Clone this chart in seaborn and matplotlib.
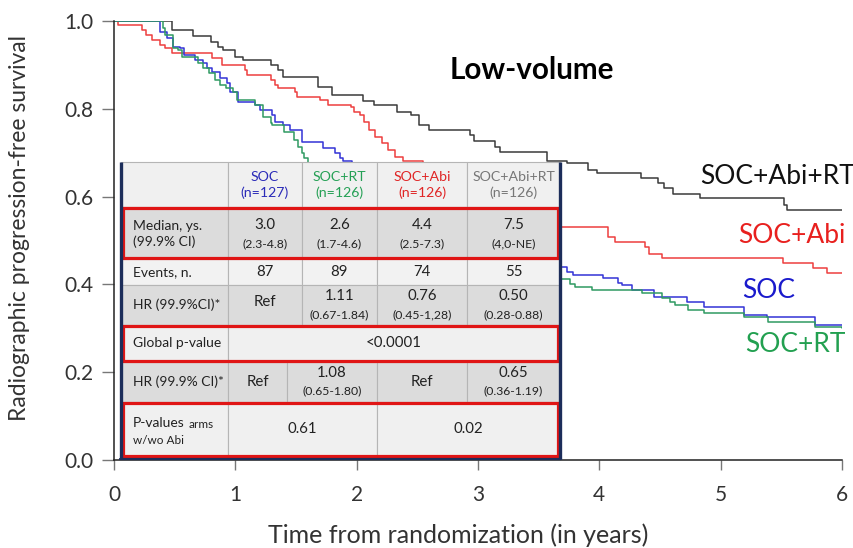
import numpy as np
import pandas as pd
import matplotlib
matplotlib.use("Agg")
import matplotlib.pyplot as plt
import seaborn as sns
from matplotlib.patches import Rectangle

# ---------------- data ----------------
arms = ["SOC+Abi+RT", "SOC+Abi", "SOC", "SOC+RT"]

t_abi_rt = [0, 0.48, 0.65, 0.80, 0.86, 0.90, 1.00, 1.06, 1.29, 1.35, 1.39, 1.68, 1.80,
            2.05, 2.14, 2.33, 2.45, 2.51, 2.60, 2.93, 2.97, 3.14, 3.18, 3.57, 3.73, 3.91,
            3.98, 4.34, 4.48, 4.53, 4.61, 4.83, 5.52, 5.55, 6.0]
s_abi_rt = [1.0, 0.98, 0.965, 0.953, 0.941, 0.934, 0.919, 0.911, 0.90, 0.888, 0.873, 0.85, 0.831,
            0.818, 0.808, 0.793, 0.786, 0.763, 0.752, 0.740, 0.727, 0.714, 0.702, 0.68, 0.676, 0.66,
            0.653, 0.642, 0.631, 0.62, 0.607, 0.596, 0.58, 0.569, 0.569]

t_abi = [0, 0.03, 0.23, 0.26, 0.31, 0.38, 0.42, 0.48, 0.81, 0.89, 1.08, 1.10, 1.29, 1.33,
         1.35, 1.49, 1.51, 1.70, 1.76, 1.95, 1.98, 2.03, 2.06, 2.10, 2.15, 2.21, 2.26, 2.32,
         2.38, 2.55, 2.75, 2.95, 3.15, 3.35, 3.55, 3.65, 4.07, 4.13, 4.38, 4.41, 4.52, 5.51,
         5.76, 5.88, 6.0]
s_abi = [1.0, 0.99, 0.98, 0.968, 0.957, 0.945, 0.938, 0.927, 0.916, 0.90, 0.888, 0.877, 0.866, 0.854,
         0.847, 0.838, 0.827, 0.82, 0.809, 0.804, 0.793, 0.786, 0.77, 0.752, 0.736, 0.722, 0.706, 0.69,
         0.681, 0.665, 0.645, 0.625, 0.60, 0.575, 0.55, 0.531, 0.508, 0.497, 0.485, 0.47, 0.46, 0.449,
         0.437, 0.426, 0.426]

t_soc = [0, 0.38, 0.44, 0.49, 0.54, 0.58, 0.67, 0.73, 0.77, 0.81, 0.87, 0.93, 0.96, 1.02,
         1.16, 1.20, 1.30, 1.33, 1.39, 1.45, 1.55, 1.72, 1.82, 1.86, 1.89, 1.96, 2.1, 2.3,
         2.5, 2.7, 2.9, 3.1, 3.3, 3.5, 3.65, 3.73, 3.78, 4.03, 4.15, 4.19, 4.27, 4.45, 4.72,
         4.86, 5.19, 5.38, 5.78, 6.0]
s_soc = [1.0, 0.975, 0.961, 0.941, 0.938, 0.922, 0.911, 0.904, 0.893, 0.884, 0.87, 0.859, 0.838,
         0.815, 0.809, 0.797, 0.786, 0.77, 0.763, 0.752, 0.724, 0.711, 0.699, 0.688, 0.681, 0.66,
         0.63, 0.60, 0.57, 0.54, 0.51, 0.49, 0.47, 0.455, 0.44, 0.428, 0.421, 0.414, 0.403, 0.399,
         0.387, 0.372, 0.36, 0.349, 0.33, 0.326, 0.307, 0.307]

t_rt = [0, 0.40, 0.42, 0.49, 0.53, 0.56, 0.69, 0.73, 0.78, 0.83, 0.87, 0.92, 0.98, 1.01,
        1.16, 1.23, 1.29, 1.30, 1.40, 1.48, 1.52, 1.55, 1.57, 1.60, 1.63, 1.8, 2.0, 2.2, 2.4,
        2.6, 2.8, 3.0, 3.2, 3.4, 3.6, 3.76, 3.80, 3.94, 4.35, 4.52, 4.58, 4.62, 4.73, 4.86,
        5.19, 5.39, 5.78, 6.0]
s_rt = [1.0, 0.984, 0.968, 0.938, 0.934, 0.918, 0.904, 0.893, 0.882, 0.866, 0.854, 0.847, 0.838,
        0.82, 0.809, 0.781, 0.768, 0.763, 0.747, 0.729, 0.713, 0.699, 0.688, 0.677, 0.65, 0.62,
        0.59, 0.56, 0.535, 0.51, 0.49, 0.47, 0.45, 0.43, 0.412, 0.40, 0.394, 0.387, 0.38, 0.369,
        0.36, 0.353, 0.342, 0.335, 0.326, 0.315, 0.303, 0.30]

curve_times = [t_abi_rt, t_abi, t_soc, t_rt]
curve_surv = [s_abi_rt, s_abi, s_soc, s_rt]

# table content
col_headers = ["SOC\n(n=127)", "SOC+RT\n(n=126)", "SOC+Abi\n(n=126)", "SOC+Abi+RT\n(n=126)"]
row_labels = ["Median, ys.\n(99.9% CI)", "Events, n.", "HR (99.9%CI)*", "Global p-value",
              "HR (99.9% CI)*", "P-values", "w/wo Abi"]
median_vals = ["3.0", "2.6", "4.4", "7.5"]
median_ci = ["(2.3-4.8)", "(1.7-4.6)", "(2.5-7.3)", "(4,0-NE)"]
events = ["87", "89", "74", "55"]
hr_vals = ["Ref", "1.11", "0.76", "0.50"]
hr_ci = ["", "(0.67-1.84)", "(0.45-1,28)", "(0.28-0.88)"]
global_p = "<0.0001"
hr2_vals = ["Ref", "1.08", "Ref", "0.65"]
hr2_ci = ["", "(0.65-1.80)", "", "(0.36-1.19)"]
pvals = ["0.61", "0.02"]

# ---------------- style ----------------
sns.set_style("ticks")
plt.rcParams["font.family"] = ["Lato", "DejaVu Sans"]

colors = {"SOC+Abi+RT": "#3a3a3a", "SOC+Abi": "#ee3e3e", "SOC": "#3333d6", "SOC+RT": "#2f9a62"}
label_colors = {"SOC+Abi+RT": "#111111", "SOC+Abi": "#e8201e", "SOC": "#1a1acc", "SOC+RT": "#22a050"}
header_colors = ["#2a2ab8", "#25a055", "#e02525", "#777777"]

W, H = 854, 548
fig = plt.figure(figsize=(W / 100, H / 100), dpi=100)
ax = fig.add_axes([114 / W, 1 - 460 / H, (842 - 114) / W, (460 - 21) / H])

df = pd.concat([pd.DataFrame({"t": t, "S": s, "arm": a})
                for a, t, s in zip(arms, curve_times, curve_surv)], ignore_index=True)
sns.lineplot(data=df, x="t", y="S", hue="arm", palette=colors, estimator=None, sort=False,
             drawstyle="steps-post", legend=False, linewidth=1.1, ax=ax)

ax.set_xlim(0, 6)
ax.set_ylim(0, 1.0)
ax.set_xticks(range(0, 7))
ax.set_yticks([0, 0.2, 0.4, 0.6, 0.8, 1.0])
ax.set_yticklabels(["0.0", "0.2", "0.4", "0.6", "0.8", "1.0"])
ax.tick_params(axis="both", labelsize=15, labelcolor="#333333", color="#777777",
               direction="out", length=9, width=1)
ax.tick_params(axis="y", pad=6)
ax.tick_params(axis="x", pad=11, length=7)
for sp in ["top", "right"]:
    ax.spines[sp].set_visible(False)
for sp in ["left", "bottom"]:
    ax.spines[sp].set_color("#222222")
    ax.spines[sp].set_linewidth(1.1)
ax.set_xlabel("")
ax.set_ylabel("")

fig.text(458 / W, 1 - 535 / H, "Time from randomization (in years)", ha="center", va="center",
         fontsize=18, color="#333333")
fig.text(20 / W, 1 - 228 / H, "Radiographic progression-free survival", ha="center", va="center",
         rotation=90, fontsize=16.5, color="#333333")

ax.text((532 - 114) / 121.3, (460 - 70) / 439, "Low-volume", ha="center", va="center",
        fontsize=21.3, fontweight="bold", color="black")

label_pos = {"SOC+Abi+RT": (700, 176), "SOC+Abi": (738, 236), "SOC": (742, 291), "SOC+RT": (745, 345)}
for a in arms:
    px, py = label_pos[a]
    ax.text((px - 114) / 121.3, (460 - py) / 439, a, ha="left", va="center", fontsize=19,
            color=label_colors[a], clip_on=False)

# ---------------- table overlay ----------------
tax = fig.add_axes([0, 0, 1, 1], zorder=5)
tax.set_xlim(0, W)
tax.set_ylim(H, 0)
tax.axis("off")
tax.patch.set_alpha(0)

rows_y = [162, 207, 259, 285, 325, 362, 402, 457]
cols_x = [121, 228, 302, 377, 467, 560]
hr2_cols = [121, 228, 287, 377, 467, 560]
row_fill = ["#f0f0f0", "#dcdcdc", "#f2f2f2", "#dcdcdc", "#f0f0f0", "#dcdcdc", "#f0f0f0"]
grid_c = "#b5b5b5"

def cell(x0, x1, y0, y1, fc):
    tax.add_patch(Rectangle((x0, y0), x1 - x0, y1 - y0, facecolor=fc, edgecolor=grid_c, lw=0.8))

for r in range(7):
    y0, y1 = rows_y[r], rows_y[r + 1]
    if r == 4:
        cell(cols_x[0], cols_x[1], y0, y1, row_fill[r])
        cell(cols_x[1], cols_x[5], y0, y1, row_fill[r])
    elif r == 5:
        for c in range(5):
            cell(hr2_cols[c], hr2_cols[c + 1], y0, y1, row_fill[r])
    elif r == 6:
        cell(cols_x[0], cols_x[1], y0, y1, row_fill[r])
        cell(cols_x[1], cols_x[3], y0, y1, row_fill[r])
        cell(cols_x[3], cols_x[5], y0, y1, row_fill[r])
    else:
        for c in range(5):
            cell(cols_x[c], cols_x[c + 1], y0, y1, row_fill[r])

# red boxes
for r in [1, 4, 6]:
    tax.add_patch(Rectangle((123, rows_y[r] + 1), 435, rows_y[r + 1] - rows_y[r] - 2,
                            facecolor="none", edgecolor="#e01515", lw=2.3))
# navy borders
navy = "#1c2d5a"
tax.plot([121, 121], [162, 459], color=navy, lw=2.4, solid_capstyle="butt")
tax.plot([560, 560], [162, 459], color=navy, lw=2.4, solid_capstyle="butt")
tax.plot([120, 561], [458.5, 458.5], color=navy, lw=1.6)

centers = [(cols_x[c] + cols_x[c + 1]) / 2 for c in range(1, 5)]
hr2_centers = [(hr2_cols[c] + hr2_cols[c + 1]) / 2 for c in range(1, 5)]
LX = 133
fs_lab, fs_val, fs_ci = 10, 10.8, 8.8
tc = "#222222"

for c, (hdr, hc) in enumerate(zip(col_headers, header_colors)):
    tax.text(centers[c], 185, hdr, ha="center", va="center", fontsize=10.2, color=hc, linespacing=1.3)

tax.text(LX, 234, row_labels[0], ha="left", va="center", fontsize=fs_lab, color=tc, linespacing=1.25)
for c in range(4):
    tax.text(centers[c], 225, median_vals[c], ha="center", va="center", fontsize=fs_val, color=tc)
    tax.text(centers[c], 244, median_ci[c], ha="center", va="center", fontsize=fs_ci, color=tc)

tax.text(LX, 272, row_labels[1], ha="left", va="center", fontsize=fs_lab, color=tc)
for c in range(4):
    tax.text(centers[c], 272, events[c], ha="center", va="center", fontsize=fs_val, color=tc)

tax.text(LX, 305, row_labels[2], ha="left", va="center", fontsize=fs_lab, color=tc)
for c in range(4):
    if hr_ci[c]:
        tax.text(centers[c], 296, hr_vals[c], ha="center", va="center", fontsize=fs_val, color=tc)
        tax.text(centers[c], 315, hr_ci[c], ha="center", va="center", fontsize=fs_ci, color=tc)
    else:
        tax.text(centers[c], 302, hr_vals[c], ha="center", va="center", fontsize=fs_val, color=tc)

tax.text(LX, 343, row_labels[3], ha="left", va="center", fontsize=fs_lab, color=tc)
tax.text((cols_x[1] + cols_x[5]) / 2, 343, global_p, ha="center", va="center", fontsize=fs_val, color=tc)

tax.text(LX, 382, row_labels[4], ha="left", va="center", fontsize=fs_lab, color=tc)
for c in range(4):
    if hr2_ci[c]:
        tax.text(hr2_centers[c], 373, hr2_vals[c], ha="center", va="center", fontsize=fs_val, color=tc)
        tax.text(hr2_centers[c], 391, hr2_ci[c], ha="center", va="center", fontsize=fs_ci, color=tc)
    else:
        tax.text(hr2_centers[c], 382, hr2_vals[c], ha="center", va="center", fontsize=fs_val, color=tc)

tax.text(LX, 423, row_labels[5], ha="left", va="center", fontsize=fs_lab, color=tc)
tax.text(189, 424, "arms", ha="left", va="center", fontsize=8.5, color=tc)
tax.text(LX, 440, row_labels[6], ha="left", va="center", fontsize=8.5, color=tc)
tax.text((cols_x[1] + cols_x[3]) / 2, 429, pvals[0], ha="center", va="center", fontsize=fs_val, color=tc)
tax.text((cols_x[3] + cols_x[5]) / 2, 429, pvals[1], ha="center", va="center", fontsize=fs_val, color=tc)

fig.savefig("out.png", dpi=100)
